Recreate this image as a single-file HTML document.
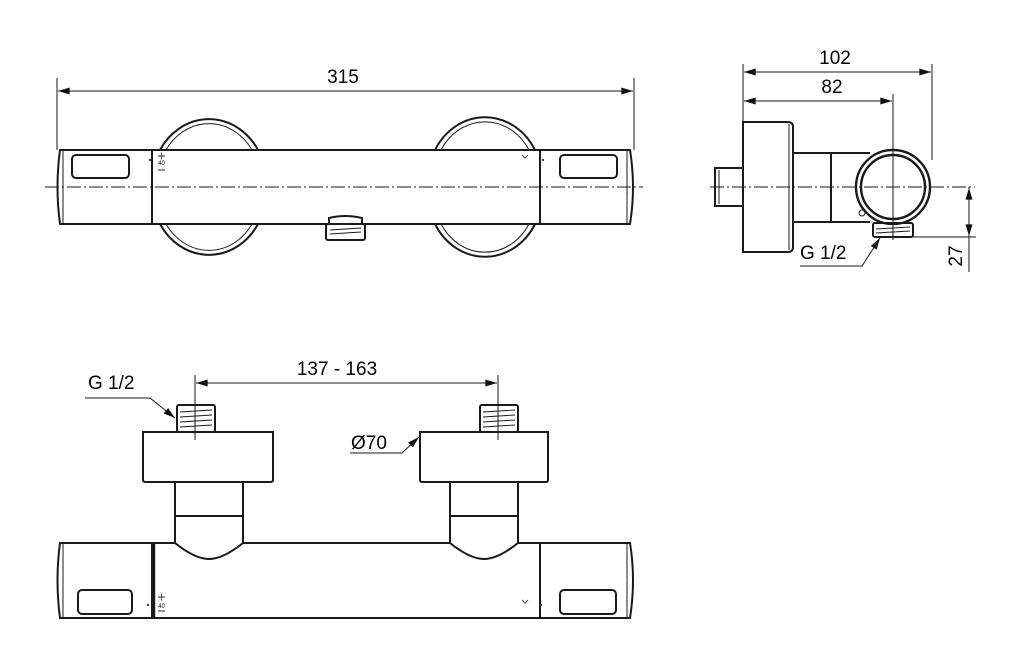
<!DOCTYPE html>
<html><head><meta charset="utf-8"><style>
html,body{margin:0;padding:0;background:#fff;}
svg{display:block;}
text{font-family:"Liberation Sans",sans-serif;fill:#000;}
</style></head><body>
<svg width="1024" height="664" viewBox="0 0 1024 664" xmlns="http://www.w3.org/2000/svg">
<defs>
<marker id="a" viewBox="0 0 10 6" refX="10" refY="3" markerWidth="18" markerHeight="7" markerUnits="userSpaceOnUse" orient="auto-start-reverse"><path d="M0,0 L10,3 L0,6 z" fill="#111"/></marker>
</defs>
<g fill="none" stroke="#1a1a1a" stroke-width="2">
<!-- TOP VIEW -->
<line x1="57" y1="78" x2="57" y2="150" stroke-width="1"/>
<line x1="634" y1="78" x2="634" y2="150" stroke-width="1"/>
<line x1="58" y1="91" x2="633" y2="91" stroke-width="1" marker-start="url(#a)" marker-end="url(#a)"/>
<path d="M160,150 A57,63 0 0 1 258,150"/><path d="M166,150 A51,57 0 0 1 252,150" stroke-width="1"/>
<path d="M160,224 A57,63 0 0 0 258,224"/><path d="M166,224 A51,57 0 0 0 252,224" stroke-width="1"/>
<path d="M435,150 A57,63 0 0 1 535,150"/><path d="M441,150 A51,57 0 0 1 529,150" stroke-width="1"/>
<path d="M435,224 A57,63 0 0 0 535,224"/><path d="M441,224 A51,57 0 0 0 529,224" stroke-width="1"/>
<path d="M60,150 L152,150 L152,224 L60,224 Q55,187 60,150 Z"/>
<line x1="63" y1="151" x2="63" y2="223" stroke-width="1"/>
<rect x="152" y="150" width="388" height="74"/>
<path d="M540,150 L630,150 Q636,187 630,224 L540,224 Z"/>
<line x1="627" y1="151" x2="627" y2="223" stroke-width="1"/>
<rect x="72" y="155" width="57" height="23" rx="4"/>
<rect x="560" y="155" width="57" height="23" rx="4"/>
<path d="M329,224 L329,218 Q345,214 362,218 L362,224"/>
<rect x="326" y="224" width="39" height="16" rx="2"/>
<line x1="330" y1="230" x2="361" y2="228" stroke-width="1"/><line x1="330" y1="234" x2="361" y2="232" stroke-width="1"/>
<line x1="45" y1="187" x2="643" y2="187" stroke-width="0.9" stroke-dasharray="14,3,2,3"/>
<!-- SIDE VIEW -->
<line x1="743" y1="64" x2="743" y2="122" stroke-width="1"/>
<line x1="932" y1="64" x2="932" y2="160" stroke-width="1"/>
<line x1="893" y1="94" x2="893" y2="240" stroke-width="1"/>
<line x1="744" y1="72" x2="931" y2="72" stroke-width="1" marker-start="url(#a)" marker-end="url(#a)"/>
<line x1="744" y1="101" x2="892" y2="101" stroke-width="1" marker-start="url(#a)" marker-end="url(#a)"/>
<path d="M743,122 L788,122 Q793,122 793,127 L793,247 Q793,252 788,252 L743,252 Z"/>
<line x1="789" y1="124" x2="789" y2="250" stroke-width="1"/>
<rect x="715" y="168" width="28" height="38"/>
<line x1="719" y1="170" x2="719" y2="204" stroke-width="1"/>
<path d="M793,153 L870,153 M793,222 L870,222 M831,153 L831,222"/>
<circle cx="893" cy="187" r="37" stroke-width="2.4"/>
<circle cx="893" cy="187" r="32" stroke-width="2.4"/>
<circle cx="862" cy="213" r="3" stroke-width="1"/>
<rect x="873" y="223" width="40" height="14" rx="2"/>
<line x1="876" y1="229" x2="910" y2="227" stroke-width="1"/><line x1="876" y1="233" x2="910" y2="231" stroke-width="1"/>
<line x1="710" y1="187" x2="975" y2="187" stroke-width="0.9" stroke-dasharray="14,3,2,3"/>
<line x1="913" y1="237" x2="976" y2="237" stroke-width="1"/>
<line x1="969" y1="187" x2="969" y2="272" stroke-width="1"/>
<line x1="969" y1="212" x2="969" y2="188" stroke-width="1" marker-end="url(#a)"/>
<line x1="969" y1="212" x2="969" y2="236" stroke-width="1" marker-end="url(#a)"/>
<polyline points="800,266 862,266 880,238" stroke-width="1" marker-end="url(#a)"/>
<!-- BOTTOM VIEW -->
<line x1="195" y1="375" x2="195" y2="440" stroke-width="1"/>
<line x1="498" y1="375" x2="498" y2="440" stroke-width="1"/>
<line x1="196" y1="383" x2="497" y2="383" stroke-width="1" marker-start="url(#a)" marker-end="url(#a)"/>
<rect x="177" y="405" width="38" height="27" rx="2"/>
<rect x="480" y="405" width="38" height="27" rx="2"/>
<g stroke-width="0.9">
<line x1="180" y1="412" x2="212" y2="410"/><line x1="180" y1="417" x2="212" y2="415"/><line x1="180" y1="422" x2="212" y2="420"/><line x1="180" y1="427" x2="212" y2="425"/>
<line x1="483" y1="412" x2="515" y2="410"/><line x1="483" y1="417" x2="515" y2="415"/><line x1="483" y1="422" x2="515" y2="420"/><line x1="483" y1="427" x2="515" y2="425"/>
</g>
<path d="M143,432 L273,432 L273,480 Q273,482 270,482 L146,482 Q143,482 143,480 Z"/>
<path d="M420,432 L548,432 L548,480 Q548,482 545,482 L423,482 Q420,482 420,480 Z"/>
<path d="M175,482 L175,543 M243,482 L243,543 M175,516 L243,516"/>
<path d="M450,482 L450,543 M518,482 L518,543 M450,516 L518,516"/>
<path d="M175,543 Q195,559 209,559 Q223,559 243,543"/>
<path d="M450,543 Q470,559 484,559 Q498,559 518,543"/>
<path d="M60,543 L152,543 L152,618 L60,618 Q55,580 60,543 Z"/>
<line x1="63" y1="544" x2="63" y2="617" stroke-width="1"/>
<path d="M152,543 L175,543 M243,543 L450,543 M518,543 L540,543 M152,618 L540,618"/>
<line x1="154" y1="543" x2="154" y2="618" stroke-width="2.4"/>
<path d="M540,543 L630,543 Q636,580 630,618 L540,618 Z"/>
<line x1="627" y1="544" x2="627" y2="617" stroke-width="1"/>
<rect x="78" y="590" width="54" height="24" rx="4"/>
<rect x="560" y="590" width="56" height="24" rx="4"/>
<polyline points="85,398 150,398 175,418" stroke-width="1" marker-end="url(#a)"/>
<polyline points="350,453 402,453 419,437" stroke-width="1" marker-end="url(#a)"/>
</g>
<g stroke="#555" stroke-width="1.2" fill="none">
<path d="M158,156 h7 M161.5,152.5 v7 M158,170 h7"/>
<path d="M522,155 l3,3 l3,-3"/>
<path d="M158,597 h7 M161.5,593.5 v7 M158,611 h7"/>
<path d="M522,600 l3,3 l3,-3"/>
</g>
<g fill="#444"><circle cx="150" cy="160" r="1.2"/><circle cx="543" cy="160" r="1.2"/><circle cx="148" cy="605" r="1.2"/><circle cx="541" cy="605" r="1.2"/></g>
<text x="161.5" y="165" font-size="6" text-anchor="middle">40</text>
<text x="161.5" y="608" font-size="6" text-anchor="middle">40</text>
<text x="343" y="83" font-size="19" text-anchor="middle">315</text>
<text x="835" y="64" font-size="19" text-anchor="middle">102</text>
<text x="832" y="93" font-size="19" text-anchor="middle">82</text>
<text x="800" y="259" font-size="19">G 1/2</text>
<text x="0" y="0" font-size="19" text-anchor="middle" transform="translate(962,256) rotate(-90)">27</text>
<text x="337" y="375" font-size="19" text-anchor="middle">137 - 163</text>
<text x="88" y="389" font-size="19">G 1/2</text>
<text x="351" y="449" font-size="19">Ø70</text>
</svg>
</body></html>
